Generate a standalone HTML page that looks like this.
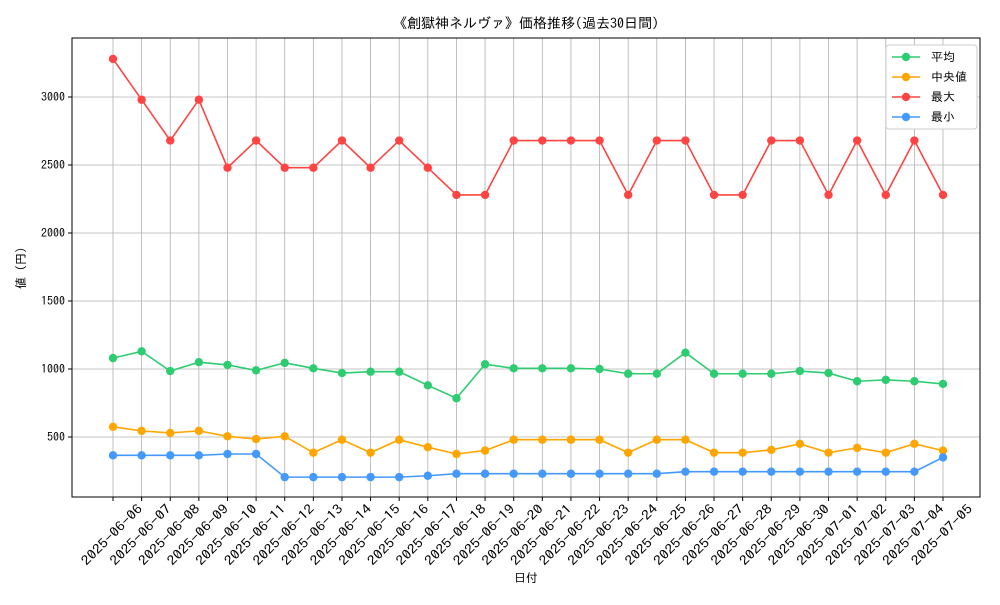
<!DOCTYPE html>
<html><head><meta charset="utf-8"><style>
body{margin:0;background:#fff;}
svg{font-family:"IPAGothic","Noto Sans CJK JP",sans-serif;}
</style></head><body>
<svg id="chart" width="1000" height="600"></svg>
<script>
const dates=["2025-06-06","2025-06-07","2025-06-08","2025-06-09","2025-06-10","2025-06-11","2025-06-12","2025-06-13","2025-06-14","2025-06-15","2025-06-16","2025-06-17","2025-06-18","2025-06-19","2025-06-20","2025-06-21","2025-06-22","2025-06-23","2025-06-24","2025-06-25","2025-06-26","2025-06-27","2025-06-28","2025-06-29","2025-06-30","2025-07-01","2025-07-02","2025-07-03","2025-07-04","2025-07-05"];
const avgVals=[1080,1130,985,1050,1030,990,1045,1005,970,980,980,880,785,1035,1005,1005,1005,1000,965,965,1120,965,965,965,985,970,910,920,910,890];
const medVals=[575,545,530,545,505,485,505,385,480,385,480,425,375,400,480,480,480,480,385,480,480,385,385,405,450,385,420,385,450,400];
const maxVals=[3280,2980,2680,2980,2480,2680,2480,2480,2680,2480,2680,2480,2280,2280,2680,2680,2680,2680,2280,2680,2680,2280,2280,2680,2680,2280,2680,2280,2680,2280];
const minVals=[365,365,365,365,375,375,205,205,205,205,205,215,230,230,230,230,230,230,230,230,245,245,245,245,245,245,245,245,245,350];
const yTicks=[500,1000,1500,2000,2500,3000];
const seriesNames=["平均","中央値","最大","最小"];
const L=72,R=980,T=38,B=497;
const xS=i=>113+i*(943-113)/(dates.length-1);
const yS=v=>505-v*0.136;
const svg=document.getElementById('chart');
const NS="http://www.w3.org/2000/svg";
function el(tag,attrs,parent){const e=document.createElementNS(NS,tag);for(const k in attrs)e.setAttribute(k,attrs[k]);(parent||svg).appendChild(e);return e;}
dates.forEach((d,i)=>{const g=el('line',{x1:xS(i),x2:xS(i),y1:T,y2:B,stroke:'#b0b0b0','stroke-width':0.8});


el('line',{x1:xS(i),x2:xS(i),y1:B,y2:B+4,stroke:'#000'});
const t=el('text',{x:0,y:0,'font-size':13,'text-anchor':'middle',textLength:80,lengthAdjust:'spacingAndGlyphs',transform:`translate(${xS(i)+2},${B+41}) rotate(-45)`});t.textContent=d;

});
yTicks.forEach(v=>{const g=el('line',{x1:L,x2:R,y1:yS(v),y2:yS(v),stroke:'#b0b0b0','stroke-width':0.8});


el('line',{x1:L-4,x2:L,y1:yS(v),y2:yS(v),stroke:'#000'});
const t=el('text',{x:L-7,y:yS(v)+4,'font-size':12,'text-anchor':'end'});t.textContent=v;

});
const fr=el('rect',{x:L,y:T,width:R-L,height:B-T,fill:'none',stroke:'#000','stroke-width':1});


const colors=['#2ecc71','#ffa500','#ff4444','#4499ff'];
const names=['series-average','series-median','series-max','series-min'];
[avgVals,medVals,maxVals,minVals].forEach((vals,s)=>{
const g=el('g',{});


el('polyline',{points:vals.map((v,i)=>xS(i)+','+yS(v)).join(' '),fill:'none',stroke:colors[s],'stroke-width':1.6},g);
vals.forEach((v,i)=>{const c=el('circle',{cx:xS(i),cy:yS(v),r:4.2,fill:colors[s]},g);

});
});
const lg=el('g',{});


el('rect',{x:886,y:45,width:91,height:84,fill:'#fff',stroke:'#ccc',rx:3},lg);
seriesNames.forEach((n,s)=>{const y=57+s*20;
el('line',{x1:892,x2:920,y1:y,y2:y,stroke:colors[s],'stroke-width':1.6},lg);
el('circle',{cx:906,cy:y,r:4.2,fill:colors[s]},lg);
const t=el('text',{x:931,y:y+4,'font-size':12},lg);t.textContent=(s==1?' ':'')+n;

});
const title=el('text',{x:526,y:28,'font-size':14,'text-anchor':'middle'});title.textContent='《創獄神ネルヴァ》価格推移(過去30日間)';


const xt=el('text',{x:526,y:582,'font-size':12,'text-anchor':'middle'});xt.textContent='日付';


const yt=el('text',{x:0,y:0,'font-size':12,'text-anchor':'middle',transform:'translate(25,268) rotate(-90)'});yt.textContent='値 (円)';


</script>
</body></html>
